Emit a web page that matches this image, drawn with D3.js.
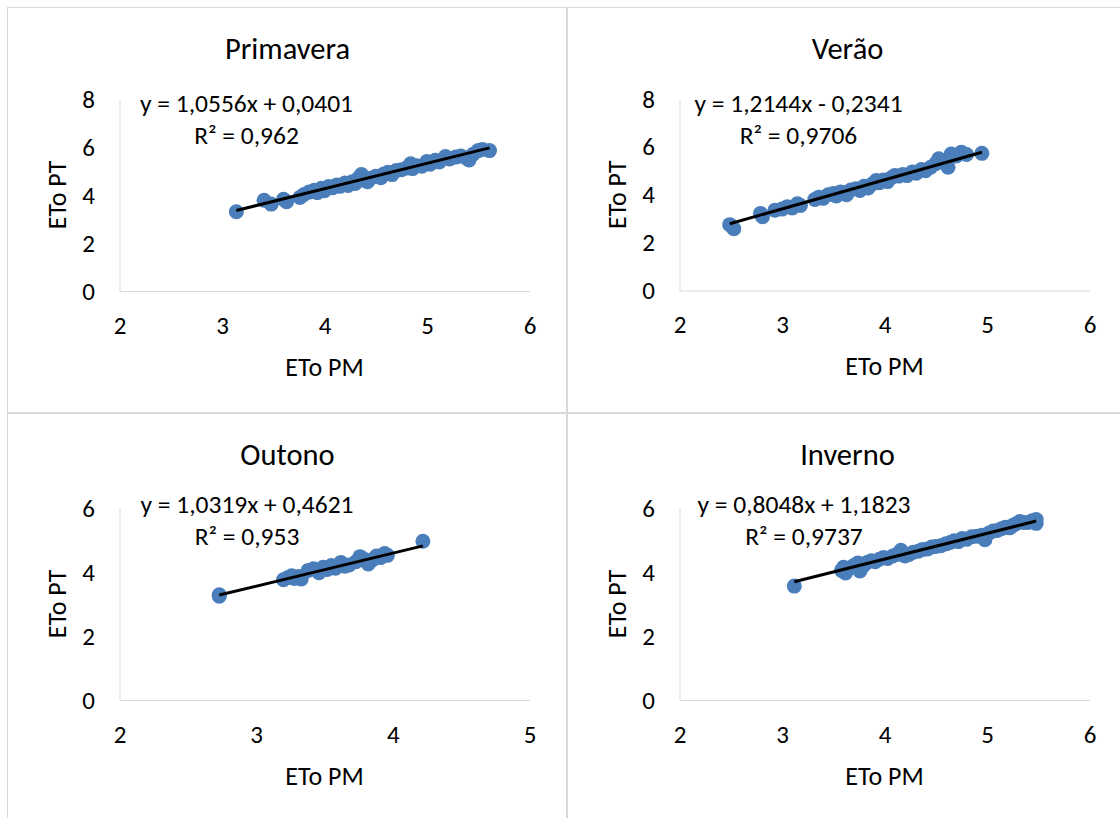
<!DOCTYPE html>
<html lang="pt">
<head>
    <meta charset="UTF-8">
    <title>ETo PT x ETo PM</title>
    <script src="https://cdn.jsdelivr.net/npm/d3@7"></script>
    <style>
        body {
            margin: 0;
            background: #fff;
        }
        svg text { font-family: Carlito, Calibri, Lato, sans-serif; fill: #000; }
        .domain { stroke: #d9d9d9; }
        .tick text { font-size: 25px; }
    </style>
</head>
<body>
    <div id="chart"></div>
    <script>
        // season names and trendline labels
        const seasons = ["Primavera", "Verão", "Outono", "Inverno"];
        const equations = ["y = 1,0556x + 0,0401", "y = 1,2144x - 0,2341", "y = 1,0319x + 0,4621", "y = 0,8048x + 1,1823"];
        const r2Labels = ["R² = 0,962", "R² = 0,9706", "R² = 0,953", "R² = 0,9737"];
        const slopes = [1.0556, 1.2144, 1.0319, 0.8048];
        const intercepts = [0.0401, -0.2341, 0.4621, 1.1823];

        // axis ranges and ticks
        const xDomains = [[2, 6], [2, 6], [2, 5], [2, 6]];
        const yDomains = [[0, 8], [0, 8], [0, 6], [0, 6]];
        const xTicks = [[2, 3, 4, 5, 6], [2, 3, 4, 5, 6], [2, 3, 4, 5], [2, 3, 4, 5, 6]];
        const yTicks = [[0, 2, 4, 6, 8], [0, 2, 4, 6, 8], [0, 2, 4, 6], [0, 2, 4, 6]];

        // ETo PM (x) and ETo PT (y)
        const primaveraPM = [3.14, 3.41, 3.48, 3.60, 3.63, 3.76, 3.80, 3.85, 3.90, 3.93, 3.97, 4.00, 4.04, 4.08, 4.12, 4.15, 4.20, 4.23, 4.27, 4.30, 4.33, 4.36, 4.38, 4.42, 4.45, 4.50, 4.55, 4.58, 4.62, 4.66, 4.70, 4.75, 4.80, 4.84, 4.86, 4.90, 4.95, 5.00, 5.03, 5.08, 5.12, 5.18, 5.22, 5.28, 5.33, 5.38, 5.41, 5.45, 5.50, 5.54, 5.61];
        const primaveraPT = [3.30, 3.78, 3.62, 3.82, 3.72, 3.90, 4.02, 4.12, 4.20, 4.10, 4.28, 4.18, 4.35, 4.30, 4.42, 4.36, 4.50, 4.40, 4.55, 4.48, 4.70, 4.85, 4.62, 4.55, 4.70, 4.78, 4.72, 4.88, 4.95, 4.85, 5.02, 5.05, 5.12, 5.30, 5.10, 5.22, 5.20, 5.40, 5.28, 5.45, 5.38, 5.60, 5.50, 5.58, 5.62, 5.55, 5.46, 5.70, 5.85, 5.90, 5.85];

        const veraoPM = [2.49, 2.53, 2.79, 2.81, 2.93, 3.00, 3.05, 3.10, 3.15, 3.18, 3.32, 3.36, 3.40, 3.45, 3.50, 3.53, 3.57, 3.60, 3.63, 3.67, 3.72, 3.76, 3.80, 3.84, 3.88, 3.92, 3.95, 3.99, 4.03, 4.07, 4.10, 4.14, 4.18, 4.22, 4.27, 4.31, 4.36, 4.40, 4.45, 4.50, 4.53, 4.58, 4.62, 4.65, 4.70, 4.75, 4.80, 4.95];
        const veraoPT = [2.75, 2.58, 3.22, 3.08, 3.35, 3.40, 3.50, 3.45, 3.62, 3.55, 3.80, 3.90, 3.85, 4.00, 4.05, 3.95, 4.12, 4.08, 4.00, 4.20, 4.25, 4.18, 4.35, 4.28, 4.45, 4.60, 4.50, 4.62, 4.55, 4.72, 4.80, 4.78, 4.85, 4.80, 4.95, 4.90, 5.05, 5.00, 5.15, 5.30, 5.50, 5.35, 5.15, 5.70, 5.62, 5.78, 5.68, 5.73];

        const outonoPM = [2.73, 2.73, 3.20, 3.23, 3.26, 3.28, 3.31, 3.33, 3.38, 3.42, 3.46, 3.49, 3.52, 3.55, 3.58, 3.62, 3.65, 3.68, 3.73, 3.76, 3.79, 3.82, 3.85, 3.88, 3.91, 3.94, 3.96, 4.22];
        const outonoPT = [3.29, 3.24, 3.76, 3.82, 3.88, 3.80, 3.86, 3.78, 4.05, 4.10, 3.98, 4.15, 4.08, 4.20, 4.12, 4.30, 4.18, 4.22, 4.32, 4.48, 4.40, 4.25, 4.38, 4.50, 4.45, 4.58, 4.52, 4.96];

        const invernoPM = [3.12, 3.58, 3.60, 3.62, 3.66, 3.70, 3.74, 3.76, 3.79, 3.83, 3.87, 3.91, 3.95, 3.99, 4.03, 4.08, 4.12, 4.16, 4.20, 4.24, 4.28, 4.33, 4.37, 4.42, 4.46, 4.50, 4.55, 4.60, 4.64, 4.68, 4.72, 4.76, 4.80, 4.85, 4.90, 4.95, 4.98, 5.02, 5.06, 5.10, 5.14, 5.18, 5.22, 5.25, 5.28, 5.32, 5.36, 5.40, 5.44, 5.48, 5.48];
        const invernoPT = [3.56, 4.05, 4.15, 3.97, 4.12, 4.20, 4.28, 4.03, 4.18, 4.30, 4.35, 4.32, 4.40, 4.45, 4.42, 4.50, 4.55, 4.68, 4.50, 4.55, 4.62, 4.65, 4.70, 4.72, 4.78, 4.80, 4.82, 4.88, 4.92, 4.98, 4.95, 5.05, 5.02, 5.10, 5.12, 5.15, 5.01, 5.22, 5.28, 5.30, 5.35, 5.40, 5.38, 5.45, 5.50, 5.58, 5.55, 5.55, 5.60, 5.64, 5.52];

        const seriesPM = [primaveraPM, veraoPM, outonoPM, invernoPM];
        const seriesPT = [primaveraPT, veraoPT, outonoPT, invernoPT];

        // layout of the four chart boxes
        const panelOrigin = [[7.5, 7.5], [567.5, 7.5], [7.5, 413.5], [567.5, 413.5]];
        const panelW = 559, panelH = 405;
        const plotLeft = 112, plotRight = 522;
        const plotTop = [91.5, 91.5, 94.5, 94.5];
        const plotBottom = [283.5, 283, 286.5, 286.5];
        const labelPos = [[239, 95.5], [231, 95.5], [239.5, 90.5], [236.5, 90.5]];

        const svg = d3.select("#chart")
            .append("svg")
            .attr("width", 1120)
            .attr("height", 818);

        seasons.forEach(function(season, i) {
            const g = svg.append("g")
                .attr("transform", "translate(" + panelOrigin[i][0] + "," + panelOrigin[i][1] + ")");

            g.append("rect")
                .attr("width", panelW)
                .attr("height", panelH)
                .attr("fill", "#fff")
                .attr("stroke", "#d9d9d9");

            const x = d3.scaleLinear().domain(xDomains[i]).range([plotLeft, plotRight]);
            const y = d3.scaleLinear().domain(yDomains[i]).range([plotBottom[i], plotTop[i]]);

            g.append("g")
                .attr("transform", "translate(0," + plotBottom[i] + ")")
                .call(d3.axisBottom(x).tickValues(xTicks[i]).tickFormat(d3.format("d")).tickSize(0).tickPadding(25));

            g.append("g")
                .attr("transform", "translate(" + plotLeft + ",0)")
                .call(d3.axisLeft(y).tickValues(yTicks[i]).tickFormat(d3.format("d")).tickSize(0).tickPadding(24.5));

            g.selectAll(".tick line").remove();

            const pts = seriesPM[i].map(function(v, k) { return [v, seriesPT[i][k]]; });

            g.selectAll("circle")
                .data(pts)
                .enter()
                .append("circle")
                .attr("cx", function(d) { return x(d[0]); })
                .attr("cy", function(d) { return y(d[1]); })
                .attr("r", 7.5)
                .attr("fill", "#4a7ebb");

            // linear trendline over the range of the data
            const ext = d3.extent(seriesPM[i]);
            g.append("line")
                .attr("x1", x(ext[0]))
                .attr("y1", y(slopes[i] * ext[0] + intercepts[i]))
                .attr("x2", x(ext[1]))
                .attr("y2", y(slopes[i] * ext[1] + intercepts[i]))
                .attr("stroke", "#000")
                .attr("stroke-width", 3);

            g.append("text")
                .attr("x", panelW / 2 + 0.5)
                .attr("y", 41)
                .attr("dy", "0.35em")
                .attr("text-anchor", "middle")
                .attr("font-size", 30.5)
                .text(season);

            g.append("text")
                .attr("x", labelPos[i][0])
                .attr("y", labelPos[i][1])
                .attr("dy", "0.35em")
                .attr("text-anchor", "middle")
                .attr("font-size", 25.5)
                .text(equations[i]);

            g.append("text")
                .attr("x", labelPos[i][0])
                .attr("y", labelPos[i][1] + 32)
                .attr("dy", "0.35em")
                .attr("text-anchor", "middle")
                .attr("font-size", 25.5)
                .text(r2Labels[i]);

            g.append("text")
                .attr("x", (plotLeft + plotRight) / 2)
                .attr("y", plotBottom[i] + 75.5)
                .attr("dy", "0.35em")
                .attr("text-anchor", "middle")
                .attr("font-size", 26)
                .text("ETo PM");

            g.append("text")
                .attr("transform", "translate(" + (plotLeft - 62.5) + "," + (plotTop[i] + plotBottom[i]) / 2 + ") rotate(-90)")
                .attr("dy", "0.35em")
                .attr("text-anchor", "middle")
                .attr("font-size", 26)
                .text("ETo PT");
        });
    </script>
</body>
</html>
